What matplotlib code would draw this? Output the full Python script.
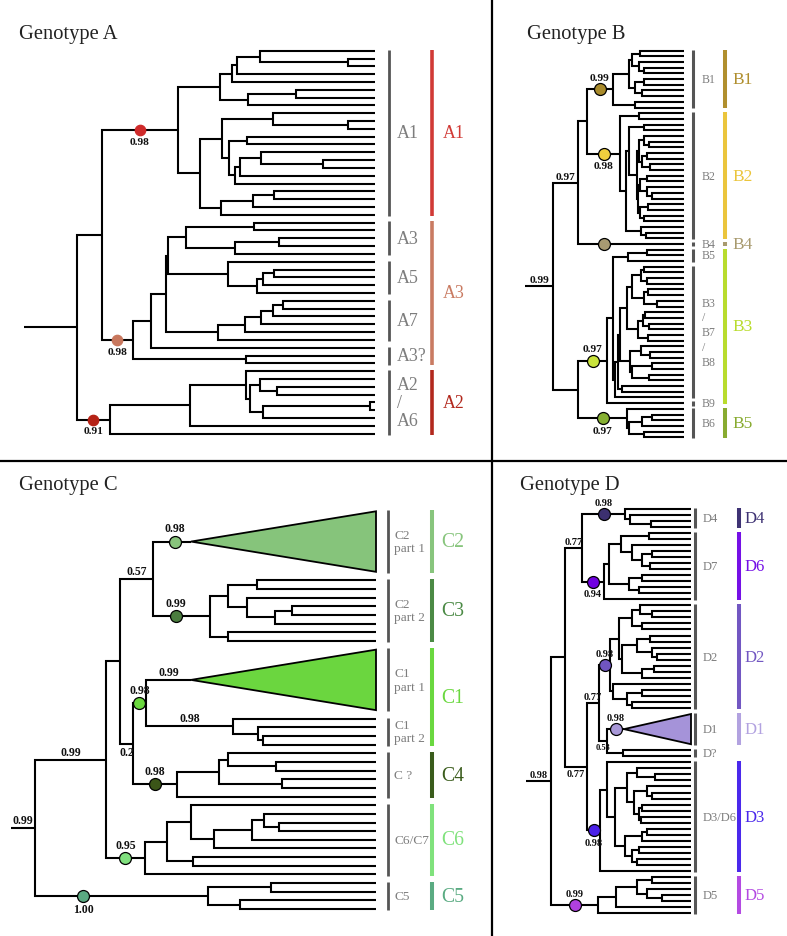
import matplotlib
matplotlib.use("Agg")
import matplotlib.pyplot as plt
from matplotlib.lines import Line2D
from matplotlib.patches import Polygon

plt.rcParams['font.family'] = ['Liberation Serif', 'DejaVu Serif']

W, H = 787, 937
LW = 1.5

# Trees in Newick form. Internal nodes carry their depth (px from panel left),
# "t" is a tip, "T<n>_<x>" a collapsed clade of n tips with apex at depth x,
# "@tag" names a node for the support annotations.

# ---- Genotype A
a1_clade = ("(((((t,(t,t)348)260,t)237,t)232,((t,t)296,t)248)220,"
            "(((t,(t,t)348)273,((t,t)247,(((t,(t,t)323)261,t)240,t)235)229)222,"
            "(((t,t)274,t)253,t)221)200)178@a1")
a3_clade = ("((((((t,t)254,((t,t)279,t)235)186,(t,(((t,t)274,t)263,t)257)228)168,"
            "(((((t,t)283,t)273,t)261,t)245,t)218)166,t)151,(t,t)246)133@a3")
a2_clade = "(((t,((t,(t,t)277)260,((t,t)370,t)263)250)246,t)190,t)110@a2"
a_tree = f"(({a1_clade},{a3_clade})102,{a2_clade})77@ra"

a_support = [  # tag, value, side, circle colour, place on branch
    ("a1", "0.98", "below", "#cf2a2a", 0.5),
    ("a3", "0.98", "below", "#c8775d", 0.5),
    ("a2", "0.91", "below", "#b52216", 0.5),
]
a_groups = [("A1", 0, 21), ("A3", 22, 26), ("A5", 27, 31), ("A7", 32, 37),
            ("A3?", 38, 40), ("A2\n/\nA6", 41, 49)]
a_clades = [("A1", 0, 21, "#d13a36"), ("A3", 22, 40, "#c97b62"), ("A2", 41, 49, "#b2281d")]

# ---- Genotype B
b1_clade = "((((t,t)148,(t,(t,t)152)147)140,((t,t)152,(t,t)150)143)137,(t,t)143)121@b1"
b2_clade = ("((t,t)147,(((t,t)152,(((t,(t,t)157)152,((t,t)155,(t,t)158)150)147,"
            "(((t,t)155,(t,(t,t)160)155)148,((t,t)156,(t,t)152)148)146)145)137,"
            "(t,(t,t)154)149)134)128@b2")
b5_clade = "((t,t)155,t)136"
b3_core = ("((((((t,t)152,(t,t)155)149,((t,t)156,(t,t)165)152)140,"
           "(((t,t)153,(t,t)157)151,(t,t)156)146)135,"
           "((t,(t,t)158)149,((t,t)160,(t,t)157)140)138)128,(t,t)130)126")
b3_clade = f"(({b5_clade},({b3_core},t)123)121,t)115@b3"
b6_clade = "(t,(((t,t)160,t)150,(t,t)152)137)135@b6"
b_tree = f"((({b1_clade},{b2_clade})95,t@b4)86@b97,({b3_clade},{b6_clade})86)61@rb"

b_support = [
    ("rb", "0.99", "above", None, 0.5),
    ("b97", "0.97", "above", None, 0.5),
    ("b1", "0.99", "above", "#a98b2b", 0.5),
    ("b2", "0.98", "below", "#efcf3e", 0.5),
    ("b4", "", "above", "#a89a72", 0.25),
    ("b3", "0.97", "above", "#c9e43c", 0.5),
    ("b6", "0.97", "below", "#86b032", 0.5),
]
b_groups = [("B1", 0, 10), ("B2", 11, 33), ("B4", 34, 34), ("B5", 35, 37),
            ("B3\n/\nB7\n/\nB8", 38, 61), ("B9", 62, 62), ("B6", 63, 68)]
b_clades = [("B1", 0, 10, "#b08f2e"), ("B2", 11, 33, "#ebc53c"), ("B4", 34, 34, "#a89a6e"),
            ("B3", 35, 62, "#b9dc2e"), ("B5", 63, 68, "#88ab30")]

# ---- Genotype C
c3_clade = "(((t,t)257,(t,((t,t)292,t)275)247)228,(t,t)228)210@c3"
c1_clade = "(T8_191@c1p1,(t,(t,(t,t)263)258)233@c1p2)146@c1"
c4_clade = "(((t,(t,t)276)228,(t,t)282)219,t)177@c4"
c6_clade = "(((t,(((t,(t,t)279)264,t)252,t)214)191,(t,t)193)167,t)145@c6"
c5_clade = "((t,t)271,(t,t)240)208@c5"
c_tree = (f"((((T8_191@c2p1,{c3_clade})153@c057,({c1_clade},{c4_clade})133@c02)120,"
          f"{c6_clade})106@c106,{c5_clade})35@rc")

c_support = [
    ("rc", "0.99", "above", None, 0.5),
    ("c106", "0.99", "above", None, 0.5),
    ("c057", "0.57", "above", None, 0.5),
    ("c2p1", "0.98", "above", "#88c47c", 0.58),
    ("c3", "0.99", "above", "#4b7d3f", 0.4),
    ("c02", "0.2", "below", None, 0.5),
    ("c1", "0.98", "above", "#6ad83e", 0.5),
    ("c1p1", "0.99", "above", None, 0.5),
    ("c1p2", "0.98", "above", None, 0.5),
    ("c4", "0.98", "above", "#3b5518", 0.5),
    ("c6", "0.95", "above", "#80e07e", 0.5),
    ("c5", "1.00", "below", "#5aa982", 0.28),
]
c_groups = [("C2\npart 1", 0, 7), ("C2\npart 2", 8, 15), ("C1\npart 1", 16, 23),
            ("C1\npart 2", 24, 27), ("C ?", 28, 33), ("C6/C7", 34, 42), ("C5", 43, 46)]
c_clades = [("C2", 0, 7, "#88c57d"), ("C3", 8, 15, "#4b8a45"), ("C1", 16, 27, "#6ad83f"),
            ("C4", 28, 33, "#3a5c1c"), ("C6", 34, 42, "#80e27c"), ("C5", 43, 46, "#5aab82")]
c_triangles = {"c2p1": "#86c47b", "c1p1": "#6bd63f"}

# ---- Genotype D
d4_clade = "(t,(t,(t,t)159)138)133@d4"
d6_clade = "((((t,t)157,(t,((t,t)160,(t,t)158)150)140)129,((t,t)150,(t,t)147)137)117,t)112@d6"
d2_clade = ("((((t,(t,t)160)148,(t,t)150)140,(((t,t)158,(t,(t,t)165)160)145,((t,t)162,t)150)130)127,"
            "(t,((t,t)150,(t,t)140)135)121)118@d2")
d3_clade = ("((t,(((t,(t,t)163)145,((t,(t,t)160)155,((t,t)150,(t,t)149)147)142)135,"
            "(((t,t)155,t)150,((t,t)147,(t,t)145)140)133)123)115,t)108@d3")
d5_clade = "((((t,t)160,(t,(t,t)170)155)145,t)124,t)106@d5"
d_tree = (f"((({d4_clade},{d6_clade})90@d77a,"
          f"(({d2_clade},(T6_132@d1,(t,t)131)115@d058)107@d77c,{d3_clade})95@d77b)73,"
          f"{d5_clade})59@rd")

d_support = [
    ("rd", "0.98", "above", None, 0.5),
    ("d77a", "0.77", "above", None, 0.5),
    ("d77b", "0.77", "below", None, 0.5),
    ("d77c", "0.77", "above", None, 0.5),
    ("d4", "0.98", "above", "#3c3070", 0.5),
    ("d6", "0.94", "below", "#7000e0", 0.5),
    ("d2", "0.98", "above", "#7055c0", 0.5),
    ("d058", "0.58", "below", None, 0.5),
    ("d1", "0.98", "above", "#a898d8", 0.5),
    ("d3", "0.98", "below", "#4a20e8", 0.5),
    ("d5", "0.99", "above", "#b040e0", 0.5),
]
d_groups = [("D4", 0, 3), ("D7", 4, 15), ("D2", 16, 33), ("D1", 34, 39),
            ("D?", 40, 41), ("D3/D6", 42, 60), ("D5", 61, 67)]
d_clades = [("D4", 0, 3, "#3e3274"), ("D6", 4, 15, "#7510e6"), ("D2", 16, 33, "#7257c2"),
            ("D1", 34, 39, "#b2a2e0"), ("D3", 42, 60, "#4a28ec"), ("D5", 61, 67, "#b44ae2")]
d_triangles = {"d1": "#a593d9"}


def build(s, tip):
    s = "".join(s.split())
    pos = 0
    tags = {}

    def read_label():
        nonlocal pos
        start = pos
        while pos < len(s) and s[pos] not in "(),":
            pos += 1
        return s[start:pos]

    def node():
        nonlocal pos
        kids = []
        if s[pos] == "(":
            pos += 1
            kids.append(node())
            while s[pos] == ",":
                pos += 1
                kids.append(node())
            pos += 1
        name, _, tag = read_label().partition("@")
        n = {"kids": kids, "tag": tag, "tri": False, "parent": None}
        if kids:
            n["x"] = float(name)
        elif name.startswith("T"):
            cnt, apex = name[1:].split("_")
            n.update(slots=int(cnt), x=float(apex), tri=True)
        else:
            n.update(slots=1, x=tip)
        for k in kids:
            k["parent"] = n
        if tag:
            tags[tag] = n
        return n

    root = node()
    slot = [0]

    def place(n):
        if n["kids"]:
            for k in n["kids"]:
                place(k)
            n["y"] = (n["kids"][0]["y"] + n["kids"][-1]["y"]) / 2
        else:
            n["y0"] = slot[0]
            n["y1"] = slot[0] + n["slots"] - 1
            n["y"] = (n["y0"] + n["y1"]) / 2
            slot[0] += n["slots"]

    place(root)
    return root, tags


def draw_panel(fig, lay, title, tree, support, groups, clades, tri_cols):
    x0, y0, w, h = lay["rect"]
    ax = fig.add_axes([x0 / W, 1 - (y0 + h) / H, w / W, h / H])
    ax.set_xlim(0, w)
    ax.set_ylim((h - lay["top"]) / lay["step"], -lay["top"] / lay["step"])
    ax.axis("off")

    root, tags = build(tree, lay["tip"])

    def draw(n):
        if n["tri"]:
            ax.add_patch(Polygon([(n["x"], n["y"]), (lay["tip"], n["y0"]), (lay["tip"], n["y1"])],
                                 closed=True, fc=tri_cols[n["tag"]], ec="black", lw=1.3, zorder=2))
        kids = n["kids"]
        if not kids:
            return
        a, b = kids[0], kids[-1]
        ax.plot([a["x"], n["x"], n["x"], b["x"]], [a["y"], a["y"], b["y"], b["y"]],
                color="black", lw=LW, solid_joinstyle="miter", solid_capstyle="butt", zorder=1)
        for k in kids[1:-1]:
            ax.plot([n["x"], k["x"]], [k["y"], k["y"]], color="black", lw=LW, zorder=1)
        for k in kids:
            draw(k)

    draw(root)
    ax.plot([lay["stem"], root["x"]], [root["y"], root["y"]], color="black", lw=LW,
            solid_capstyle="butt", zorder=1)

    for tag, val, side, col, frac in support:
        n = tags[tag]
        xa = n["parent"]["x"] if n["parent"] else lay["stem"]
        xb = n["x"]
        if col:
            xc = xa + frac * (xb - xa)
            ax.plot(xc, n["y"], "o", ms=lay["dot"], mfc=col, mec=lay["dot_edge"] or col,
                    mew=0.9, zorder=4)
            off = lay["dot"] / 2 + 1.0
        else:
            xc = (xa + xb) / 2
            off = 1.5
        if val:
            fs = lay["small_fs"] if tag in lay["small_tags"] else lay["sup_fs"]
            ax.annotate(val, (xc, n["y"]), xytext=(0, off if side == "above" else -off),
                        textcoords="offset points", ha="center",
                        va="bottom" if side == "above" else "top",
                        fontsize=fs, fontweight="bold", color="#111111")

    for label, i0, i1 in groups:
        pad = 0.15 if i1 > i0 else 0.42
        ax.plot([lay["grey_x"]] * 2, [i0 - pad, i1 + pad], color="#555555",
                lw=lay["grey_lw"], solid_capstyle="butt")
        ax.text(lay["grey_tx"], (i0 + i1) / 2, label, ha="left", va="center",
                color="#7d7d7d", fontsize=lay["grey_fs"], linespacing=lay["grey_ls"])

    for label, i0, i1, col in clades:
        pad = 0.15 if i1 > i0 else 0.42
        ax.plot([lay["bar_x"]] * 2, [i0 - pad, i1 + pad], color=col,
                lw=lay["bar_lw"], solid_capstyle="butt")
        ax.text(lay["bar_tx"], (i0 + i1) / 2, label, ha="left", va="center",
                color=col, fontsize=lay["bar_fs"])

    tx, ty = lay["title"]
    fig.text(tx / W, 1 - ty / H, title, fontsize=14.8, ha="left", va="baseline", color="#222222")


layout_a = dict(rect=(0, 0, 491, 462), top=51.7, step=7.816, tip=375, stem=24,
                grey_x=389.3, grey_tx=397, bar_x=432.3, bar_tx=442.5,
                grey_fs=12.9, grey_ls=1.1, bar_fs=12.9, grey_lw=2.0, bar_lw=2.6,
                sup_fs=8.2, small_fs=6, small_tags=(), dot=7.5, dot_edge=None,
                title=(19, 39.5))
layout_b = dict(rect=(492, 0, 295, 462), top=51.7, step=5.685, tip=191.7, stem=33,
                grey_x=201, grey_tx=210, bar_x=232.7, bar_tx=240.3,
                grey_fs=8.5, grey_ls=1.3, bar_fs=12.5, grey_lw=2.2, bar_lw=2.9,
                sup_fs=8.2, small_fs=6, small_tags=(), dot=8.6, dot_edge="black",
                title=(527, 39.5))
layout_c = dict(rect=(0, 463, 491, 474), top=49.3, step=8.646, tip=376, stem=11,
                grey_x=387.7, grey_tx=394.5, bar_x=431.7, bar_tx=441,
                grey_fs=9.6, grey_ls=1.15, bar_fs=14.2, grey_lw=2.0, bar_lw=2.9,
                sup_fs=8.5, small_fs=6, small_tags=(), dot=8.6, dot_edge="black",
                title=(19, 489.7))
layout_d = dict(rect=(492, 463, 295, 474), top=46.7, step=6.039, tip=199, stem=34.3,
                grey_x=203.3, grey_tx=210.5, bar_x=247.3, bar_tx=252.3,
                grey_fs=9.0, grey_ls=1.2, bar_fs=12, grey_lw=2.2, bar_lw=2.9,
                sup_fs=7.5, small_fs=6, small_tags=("d058",), dot=8.6, dot_edge="black",
                title=(520, 489.7))

fig = plt.figure(figsize=(W / 100, H / 100), dpi=100)
fig.patch.set_facecolor("white")

draw_panel(fig, layout_a, "Genotype A", a_tree, a_support, a_groups, a_clades, {})
draw_panel(fig, layout_b, "Genotype B", b_tree, b_support, b_groups, b_clades, {})
draw_panel(fig, layout_c, "Genotype C", c_tree, c_support, c_groups, c_clades, c_triangles)
draw_panel(fig, layout_d, "Genotype D", d_tree, d_support, d_groups, d_clades, d_triangles)

# panel dividers
fig.add_artist(Line2D([492 / W, 492 / W], [0, 1], color="black", lw=1.6))
fig.add_artist(Line2D([0, 1], [1 - 461.5 / H, 1 - 461.5 / H], color="black", lw=1.6))

fig.savefig("out.png", dpi=100)
